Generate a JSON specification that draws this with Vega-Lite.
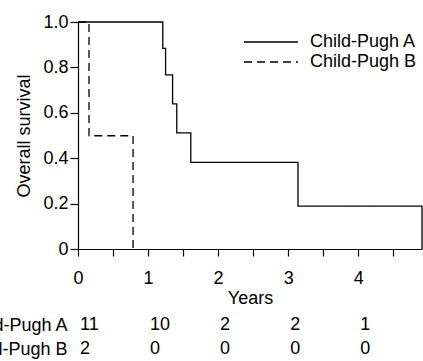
{
  "$schema": "https://vega.github.io/schema/vega-lite/v6.json",
  "autosize": {"type": "none"},
  "padding": {"left": 78, "top": 22, "right": 345, "bottom": 339},
  "background": "white",
  "config": {
    "view": {"stroke": null},
    "font": "Liberation Sans",
    "axis": {
      "domainColor": "black", "tickColor": "black", "labelColor": "black", "titleColor": "black",
      "labelFont": "Liberation Sans", "titleFont": "Liberation Sans",
      "labelFontSize": 18, "titleFontSize": 18, "titleFontWeight": "normal",
      "grid": false, "domainWidth": 1.2, "tickWidth": 1.2
    },
    "legend": {"labelFont": "Liberation Sans"}
  },
  "bounds": "flush",
  "spacing": 64,
  "vconcat": [
    {
      "width": 344,
      "height": 227,
      "data": {"values": [
        {"group": "Child-Pugh A", "t": 0, "s": 1},
        {"group": "Child-Pugh A", "t": 1.21, "s": 0.884},
        {"group": "Child-Pugh A", "t": 1.25, "s": 0.767},
        {"group": "Child-Pugh A", "t": 1.35, "s": 0.639},
        {"group": "Child-Pugh A", "t": 1.41, "s": 0.512},
        {"group": "Child-Pugh A", "t": 1.61, "s": 0.382},
        {"group": "Child-Pugh A", "t": 3.14, "s": 0.189},
        {"group": "Child-Pugh A", "t": 4.91, "s": 0},
        {"group": "Child-Pugh B", "t": 0, "s": 1},
        {"group": "Child-Pugh B", "t": 0.157, "s": 0.499},
        {"group": "Child-Pugh B", "t": 0.786, "s": 0}
      ]},
      "mark": {"type": "line", "interpolate": "step-after", "color": "black", "strokeWidth": 1.3},
      "encoding": {
        "x": {
          "field": "t", "type": "quantitative", "title": "Years",
          "scale": {"domain": [0, 4.91], "nice": false, "zero": true},
          "axis": {
            "values": [0, 0.5, 1, 1.5, 2, 2.5, 3, 3.5, 4, 4.5],
            "labelExpr": "datum.value % 1 == 0 ? format(datum.value, 'd') : ''",
            "tickSize": 7, "labelPadding": 13, "labelDx": 5, "titlePadding": 2, "labelFlush": false
          }
        },
        "y": {
          "field": "s", "type": "quantitative", "title": "Overall survival",
          "scale": {"domain": [0, 1], "nice": false},
          "axis": {
            "values": [0, 0.2, 0.4, 0.6, 0.8, 1],
            "labelExpr": "datum.value == 0 ? '0' : format(datum.value, '.1f')",
            "tickSize": 8, "labelPadding": 2, "titlePadding": 9
          }
        },
        "strokeDash": {
          "field": "group", "type": "nominal",
          "scale": {"domain": ["Child-Pugh A", "Child-Pugh B"], "range": [[1, 0], [8, 5]]},
          "legend": {
            "title": null, "orient": "none", "legendX": 165, "legendY": 10,
            "symbolType": "stroke", "symbolSize": 2916, "symbolStrokeColor": "black",
            "symbolStrokeWidth": 1.3, "clipHeight": 20, "rowPadding": 0,
            "labelFontSize": 18, "labelColor": "black", "labelOffset": 11, "padding": 0
          }
        },
        "detail": {"field": "group"}
      }
    },
    {
      "width": 344,
      "height": 48,
      "data": {"values": [
        {"group": "Child-Pugh A", "t": 0, "n": "11"},
        {"group": "Child-Pugh A", "t": 1, "n": "10"},
        {"group": "Child-Pugh A", "t": 2, "n": "2"},
        {"group": "Child-Pugh A", "t": 3, "n": "2"},
        {"group": "Child-Pugh A", "t": 4, "n": "1"},
        {"group": "Child-Pugh B", "t": 0, "n": "2"},
        {"group": "Child-Pugh B", "t": 1, "n": "0"},
        {"group": "Child-Pugh B", "t": 2, "n": "0"},
        {"group": "Child-Pugh B", "t": 3, "n": "0"},
        {"group": "Child-Pugh B", "t": 4, "n": "0"}
      ]},
      "mark": {"type": "text", "align": "left", "baseline": "middle", "dx": 2, "fontSize": 18, "color": "black", "font": "Liberation Sans"},
      "encoding": {
        "x": {"field": "t", "type": "quantitative", "scale": {"domain": [0, 4.91], "nice": false}, "axis": null},
        "y": {
          "field": "group", "type": "nominal",
          "scale": {"domain": ["Child-Pugh A", "Child-Pugh B"], "paddingInner": 0, "paddingOuter": 0},
          "axis": {"title": null, "domain": false, "ticks": false, "labelPadding": 11, "labelFontSize": 18}
        },
        "text": {"field": "n", "type": "nominal"}
      }
    }
  ]
}
